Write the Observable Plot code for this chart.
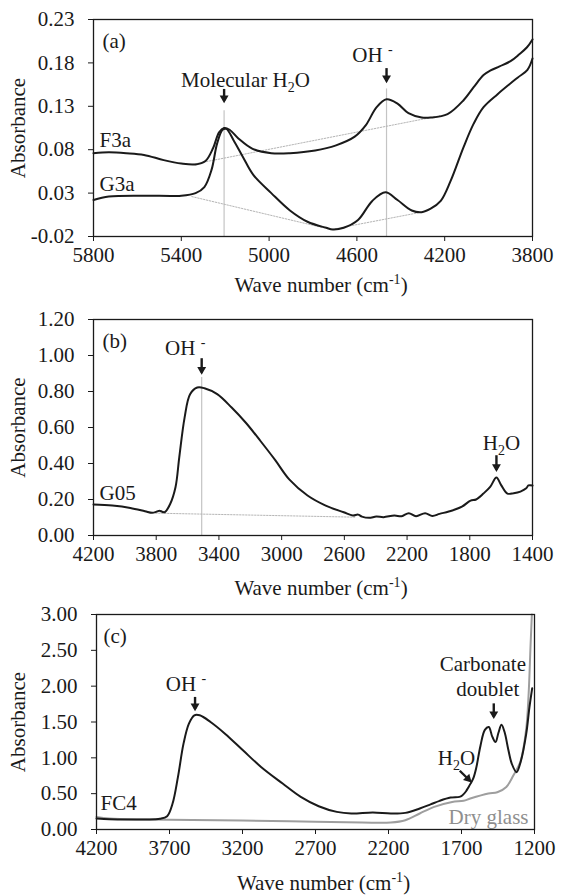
<!DOCTYPE html>
<html>
<head>
<meta charset="utf-8">
<script src="https://cdn.jsdelivr.net/npm/d3@7"></script>
<script src="https://cdn.jsdelivr.net/npm/@observablehq/plot@0.6"></script>
<style>
  html, body { margin: 0; padding: 0; background: white; }
  #chart svg { display: block; }
</style>
</head>
<body>
<div id="chart"></div>
<script>
// ---------- Panel (a) data ----------
const F3A_WN  = [5800,5730,5650,5570,5480,5400,5335,5290,5255,5228,5205,5180,5140,5075,4990,4905,4790,4695,4610,4560,4510,4465,4415,4365,4305,4264,4187,4114,4068,4023,3993,3950,3900,3860,3825,3800];
const F3A_ABS = [0.076,0.077,0.076,0.074,0.068,0.064,0.063,0.067,0.082,0.100,0.105,0.103,0.093,0.081,0.076,0.076,0.079,0.085,0.095,0.108,0.129,0.138,0.133,0.122,0.117,0.117,0.121,0.137,0.152,0.166,0.171,0.176,0.182,0.190,0.198,0.207];
const G3A_WN  = [5800,5730,5570,5400,5335,5295,5262,5237,5212,5195,5162,5120,5072,4990,4905,4825,4740,4710,4660,4595,4530,4470,4415,4350,4305,4264,4218,4173,4114,4068,4023,3959,3868,3823,3800];
const G3A_ABS = [0.022,0.026,0.027,0.027,0.030,0.037,0.057,0.087,0.103,0.104,0.091,0.072,0.051,0.030,0.010,-0.003,-0.010,-0.012,-0.010,-0.001,0.021,0.031,0.022,0.010,0.008,0.012,0.021,0.044,0.083,0.110,0.129,0.144,0.163,0.172,0.185];
const A_X_TICKS = [5800,5400,5000,4600,4200,3800];
const A_Y_TICKS = [-0.02,0.03,0.08,0.13,0.18,0.23];

// ---------- Panel (b) data ----------
const G05_WN  = [4200,4080,3965,3872,3826,3795,3780,3762,3746,3711,3677,3653,3619,3584,3538,3492,3411,3319,3227,3135,3042,2950,2835,2719,2604,2546,2512,2488,2442,2396,2350,2281,2235,2189,2143,2085,2039,1993,1912,1850,1795,1760,1713,1670,1630,1600,1560,1520,1477,1440,1426,1400];
const G05_ABS = [0.172,0.166,0.153,0.135,0.126,0.133,0.138,0.132,0.129,0.175,0.268,0.434,0.655,0.785,0.822,0.818,0.785,0.711,0.625,0.525,0.420,0.310,0.222,0.166,0.129,0.111,0.116,0.105,0.098,0.105,0.102,0.111,0.107,0.124,0.107,0.124,0.109,0.120,0.139,0.160,0.194,0.200,0.233,0.270,0.322,0.280,0.233,0.235,0.244,0.262,0.278,0.278];
const B_X_TICKS = [4200,3800,3400,3000,2600,2200,1800,1400];
const B_Y_TICKS = [0,0.2,0.4,0.6,0.8,1.0,1.2];

// ---------- Panel (c) data ----------
const FC4_WN  = [4200,4111,3987,3864,3765,3716,3679,3642,3604,3567,3530,3493,3419,3320,3197,3073,2925,2801,2678,2554,2455,2307,2184,2085,1986,1912,1850,1775,1714,1695,1670,1652,1638,1618,1600,1570,1540,1513,1490,1467,1447,1426,1405,1380,1356,1323,1294,1257,1235,1216];
const FC4_ABS = [0.153,0.144,0.139,0.139,0.149,0.186,0.362,0.734,1.198,1.477,1.593,1.593,1.500,1.337,1.105,0.873,0.641,0.455,0.325,0.246,0.223,0.237,0.223,0.232,0.293,0.350,0.400,0.445,0.455,0.475,0.530,0.590,0.640,0.720,0.850,1.170,1.390,1.430,1.300,1.220,1.350,1.460,1.360,1.120,0.920,0.800,0.950,1.330,1.700,1.970];
const DRY_WN  = [4200,4111,3864,3370,2876,2381,2184,2085,1986,1887,1764,1686,1640,1516,1455,1393,1344,1296,1257,1240,1227,1218];
const DRY_ABS = [0.176,0.153,0.139,0.130,0.116,0.098,0.098,0.130,0.223,0.316,0.385,0.400,0.432,0.502,0.520,0.594,0.757,0.950,1.400,1.900,2.570,3.000];
const C_X_TICKS = [4200,3700,3200,2700,2200,1700,1200];
const C_Y_TICKS = [0,0.5,1.0,1.5,2.0,2.5,3.0];

// ---------- Annotations (data coordinates) ----------
const A_REF_LINES = [{x: 5205, y1: 0.125, y2: -0.02}, {x: 4465, y1: 0.150, y2: -0.02}];
const A_BASE_F3A = [[5352, 0.063], [4223, 0.119]];
const A_BASE_G3A = [[5352, 0.026], [4718, -0.012], [4306, 0.008]];
const A_ARROWS = [{x: 5205, y1: 0.150, y2: 0.136}, {x: 4465, y1: 0.174, y2: 0.159}];
const A_LABELS = [
  {x: 5108, y: 0.160, text: "Molecular H_{2}O", anchor: "middle"},
  {x: 4529, y: 0.189, text: "OH ^{-}", anchor: "start"}
];
const A_SERIES_LABELS = [{x: 5800, y: 0.091, text: "F3a"}, {x: 5800, y: 0.040, text: "G3a"}];

const B_REF_LINES = [{x: 3510, y1: 0.878, y2: 0}];
const B_BASE = [[3804, 0.124], [2534, 0.102]];
const B_ARROWS = [{x: 3510, y1: 0.985, y2: 0.905}, {x: 1630, y1: 0.446, y2: 0.365}];
const B_LABELS = [
  {x: 3615, y: 1.039, text: "OH ^{-}", anchor: "start"},
  {x: 1598, y: 0.511, text: "H_{2}O", anchor: "middle"}
];
const B_SERIES_LABELS = [{x: 4200, y: 0.235, text: "G05"}];

const C_ARROWS = [{x: 3525, y1: 1.85, y2: 1.68}, {x: 1479, y1: 1.76, y2: 1.57}];
const C_DIAG_ARROWS = [{x1: 1712, y1: 0.82, x2: 1642, y2: 0.68}];
const C_LABELS = [
  {x: 3587, y: 2.02, text: "OH ^{-}", anchor: "start"},
  {x: 1554, y: 2.30, text: "Carbonate", anchor: "middle"},
  {x: 1520, y: 1.95, text: "doublet", anchor: "middle"},
  {x: 1734, y: 0.99, text: "H_{2}O", anchor: "middle"}
];
const C_SERIES_LABELS = [{x: 4200, y: 0.363, text: "FC4"}];
const C_DRY_LABEL = [{x: 1241, y: 0.17, text: "Dry glass"}];

// ---------- Helpers ----------
const INK = "#1a1a1a";
const GREY_LINE = "#9e9e9e";
const FONT = "'Liberation Serif','Times New Roman',serif";

function pts(xs, ys) { return xs.map((x, i) => ({x, y: ys[i]})); }

function curve(xs, ys, stroke) {
  return Plot.line(pts(xs, ys), {x: "x", y: "y", stroke, strokeWidth: 2, curve: "catmull-rom"});
}
function dotted(points) {
  return Plot.line(points, {x: d => d[0], y: d => d[1], stroke: "#b5b5b5", strokeWidth: 1, strokeDasharray: "1.5,1.5"});
}
function refLines(list) {
  return Plot.ruleX(list, {x: "x", y1: "y1", y2: "y2", stroke: "#c4c4c4", strokeWidth: 1.2});
}
function downArrows(list) {
  return [
    Plot.link(list, {x1: "x", x2: "x", y1: "y1", y2: "y2", stroke: INK, strokeWidth: 2.4}),
    Plot.dot(list, {x: "x", y: "y2", symbol: "triangle", rotate: 180, r: 3.3, fill: INK, stroke: null, dy: -3})
  ];
}
function diagArrows(list) {
  return [
    Plot.link(list, {x1: "x1", x2: "x2", y1: "y1", y2: "y2", stroke: INK, strokeWidth: 2.4}),
    Plot.dot(list, {x: "x2", y: "y2", symbol: "triangle", rotate: 135, r: 3.3, fill: INK, stroke: null, dx: -2, dy: -2})
  ];
}
function labels(list) {
  return Plot.text(list, {x: "x", y: "y", text: "text", textAnchor: d => d.anchor, fill: INK});
}
function labelsStart(list, dx, fill = INK) {
  return Plot.text(list, {x: "x", y: "y", text: "text", textAnchor: "start", dx, fill});
}

// Turn _{..} and ^{..} into real subscript / superscript tspans
function rich(svg) {
  const NS = "http://www.w3.org/2000/svg";
  svg.querySelectorAll("text").forEach(el => {
    const s = el.textContent;
    if (!/[_^]\{/.test(s)) return;
    while (el.firstChild) el.removeChild(el.firstChild);
    const re = /([_^])\{([^}]*)\}/g;
    let last = 0, m, pending = 0;
    const add = (txt, dy, size) => {
      const t = document.createElementNS(NS, "tspan");
      t.textContent = txt;
      if (dy) t.setAttribute("dy", dy);
      if (size) t.setAttribute("font-size", size);
      el.appendChild(t);
    };
    while ((m = re.exec(s))) {
      if (m.index > last) { add(s.slice(last, m.index), pending); pending = 0; }
      const shift = m[1] === "_" ? 5 : -8;
      add(m[2], pending + shift, 14);
      pending = -shift;
      last = re.lastIndex;
    }
    if (last < s.length) add(s.slice(last), pending);
  });
}

function panel(cfg) {
  const svg = Plot.plot({
    width: 567,
    height: cfg.height,
    marginLeft: cfg.ml, marginRight: cfg.mr, marginTop: cfg.mt, marginBottom: cfg.mb,
    style: {fontFamily: FONT, fontSize: "21px", color: INK, background: "white", overflow: "visible"},
    x: {domain: cfg.xDomain, ticks: cfg.xTicks, tickFormat: d => String(d), tickSize: 5, tickPadding: 6, label: null},
    y: {domain: cfg.yDomain, ticks: cfg.yTicks, tickFormat: d => d.toFixed(2), tickSize: 5, tickPadding: 14, label: null},
    marks: [
      ...cfg.marks,
      Plot.frame({stroke: INK, strokeWidth: 1.3}),
      Plot.text(["Absorbance"], {frameAnchor: "left", dx: -(cfg.ml - 18), rotate: -90, textAnchor: "middle", lineAnchor: "middle", fill: INK}),
      Plot.text(["Wave number (cm^{-1})"], {frameAnchor: "bottom", dy: cfg.xLabelDy, dx: 8, textAnchor: "middle", lineAnchor: "middle", fill: INK}),
      Plot.text([cfg.tag], {frameAnchor: "top-left", dx: cfg.tagDx, dy: 22, textAnchor: "start", lineAnchor: "middle", fill: INK})
    ]
  });
  rich(svg);
  return svg;
}

const chart = document.getElementById("chart");

chart.appendChild(panel({
  height: 298, ml: 93, mr: 35, mt: 19, mb: 62, xLabelDy: 49, tag: "(a)", tagDx: 9,
  xDomain: [5800, 3800], xTicks: A_X_TICKS, yDomain: [-0.02, 0.23], yTicks: A_Y_TICKS,
  marks: [
    refLines(A_REF_LINES),
    dotted(A_BASE_F3A),
    dotted(A_BASE_G3A),
    curve(F3A_WN, F3A_ABS, INK),
    curve(G3A_WN, G3A_ABS, INK),
    ...downArrows(A_ARROWS),
    labels(A_LABELS),
    labelsStart(A_SERIES_LABELS, 6)
  ]
}));

chart.appendChild(panel({
  height: 297, ml: 93, mr: 35, mt: 21, mb: 60, xLabelDy: 53, tag: "(b)", tagDx: 9,
  xDomain: [4200, 1400], xTicks: B_X_TICKS, yDomain: [0, 1.2], yTicks: B_Y_TICKS,
  marks: [
    refLines(B_REF_LINES),
    dotted(B_BASE),
    curve(G05_WN, G05_ABS, INK),
    ...downArrows(B_ARROWS),
    labels(B_LABELS),
    labelsStart(B_SERIES_LABELS, 6)
  ]
}));

chart.appendChild(panel({
  height: 300, ml: 96, mr: 33, mt: 19, mb: 66, xLabelDy: 54, tag: "(c)", tagDx: 7,
  xDomain: [4200, 1200], xTicks: C_X_TICKS, yDomain: [0, 3], yTicks: C_Y_TICKS,
  marks: [
    curve(DRY_WN, DRY_ABS, GREY_LINE),
    curve(FC4_WN, FC4_ABS, INK),
    ...downArrows(C_ARROWS),
    ...diagArrows(C_DIAG_ARROWS),
    labels(C_LABELS),
    labelsStart(C_SERIES_LABELS, 4),
    Plot.text(C_DRY_LABEL, {x: "x", y: "y", text: "text", textAnchor: "end", fill: "#8f8f8f"})
  ]
}));
</script>
</body>
</html>
